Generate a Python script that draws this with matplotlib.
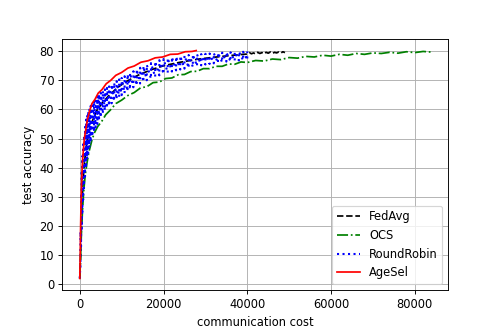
import numpy as np
import matplotlib
matplotlib.use('Agg')
import matplotlib.pyplot as plt

# FedAvg (mostly hidden under RoundRobin, visible past 40000)
fed_x = [0, 200, 400, 700, 1000, 1500, 2200, 3000, 4000, 5500, 7000, 9000, 11000,
         14000, 17000, 20000, 24000, 28000, 32000, 36000, 39000, 40000, 40500, 41000,
         41500, 42000, 42500, 43000, 43500, 44000, 44500, 45000, 45500, 46000, 46500,
         47000, 47500, 48000, 48500, 49000]
fed_y = [2, 10, 22, 33, 40, 47, 52.5, 56, 59.5, 62.5, 64.8, 67.5, 69.5,
         71.8, 73.6, 75, 76.2, 77.2, 77.9, 78.5, 78.9, 79.0, 79.5, 79.1, 79.4,
         79.0, 79.6, 79.2, 79.5, 79.1, 79.6, 79.3, 79.7, 79.2, 79.6,
         79.4, 79.7, 79.3, 79.8, 79.5]

# OCS
ocs_x = [0, 200, 400, 600, 800, 1000, 1300, 1700, 2200, 2900, 3500, 4300, 5200, 6200,
         7300, 8600, 10000, 11500, 13000, 14500, 16000, 17500, 19000, 20500, 22000,
         23500, 25000, 26500, 28000, 29500, 31000, 32500, 34000, 35500, 37000, 38500,
         40000, 42000, 44000, 46000, 48000, 50000, 52000, 54000, 56000, 58000, 60000,
         62000, 64000, 66000, 68000, 70000, 72000, 74000, 76000, 78000, 80000, 82000,
         83800]
ocs_y = [2, 10, 18, 24, 29, 33, 37.5, 41.5, 45.5, 49.5, 52, 54.2, 55.8, 58.2,
         59.8, 62, 63.2, 64.8, 65.8, 67.4, 67.8, 69.2, 69.4, 70.6, 70.8,
         71.9, 72, 73, 73.1, 74, 74, 74.8, 74.8, 75.6, 75.5, 76.3,
         76.1, 76.8, 76.6, 77.3, 77.1, 77.8, 77.6, 78.2, 78.0, 78.6, 78.3,
         78.9, 78.6, 79.2, 78.9, 79.4, 79.2, 79.6, 79.3, 79.8, 79.5, 79.9,
         79.7]

# RoundRobin: lower / upper edge of the noisy band
rr_x = [0, 150, 300, 450, 600, 800, 1000, 1250, 1500, 1750, 2000, 2300, 2600, 3000,
        3400, 3800, 4200, 4600, 5000, 5500, 6000, 6500, 7000, 7600, 8200, 8800, 9400,
        10000, 10700, 11400, 12000, 12800, 13600, 14400, 15200, 16000, 17000, 18000,
        19000, 20000, 21000, 22000, 23000, 24000, 25000, 26000, 27000, 28000, 29000,
        30000, 31000, 32000, 33000, 34000, 35000, 36000, 37000, 38000, 39000, 40000]
rr_lo = [2, 6, 13, 19, 24, 29, 33, 37, 40, 43, 45, 47, 48.8, 50.8,
         52.4, 53.8, 55, 56.2, 57.3, 58.6, 59.7, 60.5, 61.3, 62.1, 62.9, 63.6, 64.3,
         64.9, 65.6, 66.3, 66.9, 67.6, 68.3, 68.9, 69.5, 70, 70.6, 71.2,
         71.7, 72.2, 72.6, 73, 73.4, 73.7, 74, 74.3, 74.6, 74.9, 75.1,
         75.4, 75.6, 75.8, 76, 76.2, 76.4, 76.5, 76.7, 76.8, 76.9, 77]
rr_hi = [3, 18, 31, 39, 44, 48, 51, 54, 56.5, 58, 59.3, 60.3, 61.2, 62.2,
         63, 63.8, 64.5, 65.1, 65.7, 66.3, 66.9, 67.4, 67.9, 68.5, 69.1, 69.7, 70.3,
         70.8, 71.4, 72, 72.5, 73.1, 73.7, 74.3, 74.8, 75.3, 75.9, 76.4,
         76.9, 77.3, 77.6, 77.9, 78.1, 78.3, 78.5, 78.7, 78.8, 78.9, 79,
         79.1, 79.2, 79.3, 79.4, 79.5, 79.6, 79.6, 79.7, 79.8, 79.8, 79.9]

# AgeSel
age_x = [0, 100, 200, 300, 400, 550, 700, 900, 1100, 1400, 1800, 2300, 2900, 3600,
         4400, 5300, 6300, 7400, 8600, 10000, 11500, 13000, 14600, 16300, 18000,
         19800, 21600, 23400, 25200, 26800, 27800]
age_y = [2, 10, 20, 28, 34, 39.5, 43.2, 46.8, 50.2, 52.8, 56.4, 59.3, 62, 63.4,
         65.6, 66.8, 68.8, 70, 71.7, 72.7, 74.2, 74.9, 76.2, 76.7, 77.7,
         78.0, 78.9, 79.0, 79.8, 79.9, 80.2]

# zigzag through the band edges
rr_zx = np.repeat(rr_x, 2)
rr_zy = np.column_stack((rr_lo, rr_hi)).ravel()

fig, ax = plt.subplots(figsize=(6, 4), dpi=83)
fig.subplots_adjust(bottom=0.127, top=0.882)

ax.plot(fed_x, fed_y, color='black', linestyle='--', linewidth=1.5, label='FedAvg')
ax.plot(ocs_x, ocs_y, color='green', linestyle='-.', linewidth=1.5, label='OCS')
ax.plot(rr_zx, rr_zy, color='blue', linestyle=':', linewidth=1.8, label='RoundRobin')
ax.plot(age_x, age_y, color='red', linestyle='-', linewidth=1.5, label='AgeSel')

ax.set_xlabel('communication cost')
ax.set_ylabel('test accuracy')
ax.set_yticks(np.arange(0, 81, 10))
ax.set_xticks([0, 20000, 40000, 60000, 80000])
ax.grid(True)
ax.legend(loc='lower right')

plt.savefig('out.png', dpi=83)
